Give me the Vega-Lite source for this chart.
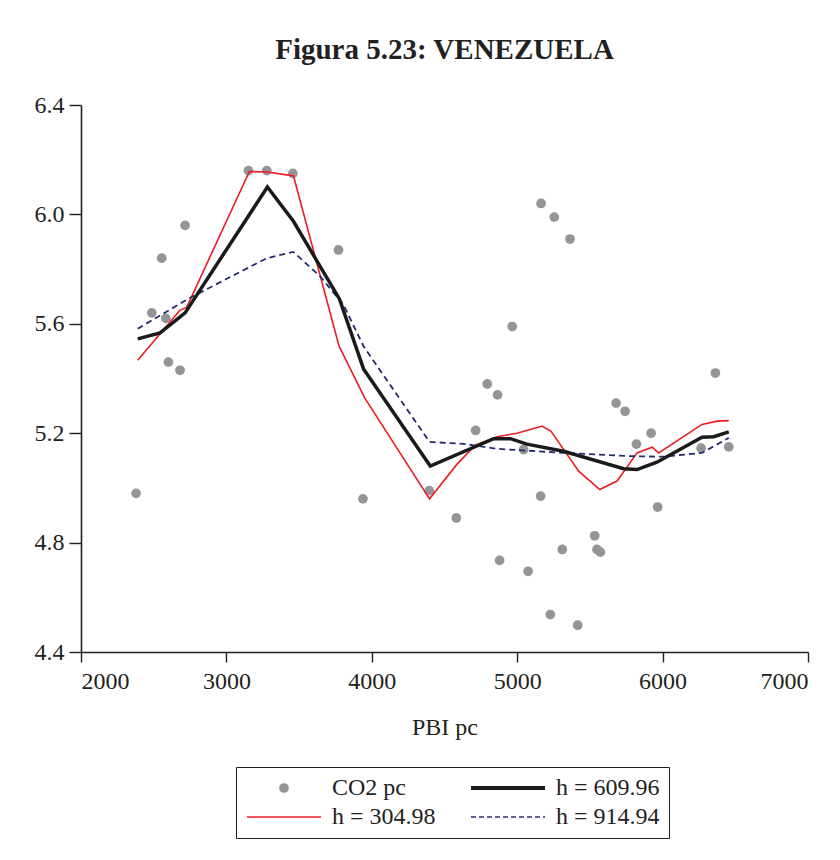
{
  "$schema": "https://vega.github.io/schema/vega-lite/v6.json",
  "width": 727,
  "height": 547,
  "autosize": {"type": "none"},
  "padding": {"left": 81, "top": 105, "right": 32, "bottom": 208},
  "background": "white",
  "title": {
    "text": "Figura 5.23: VENEZUELA",
    "font": "Liberation Serif",
    "fontSize": 29,
    "fontWeight": "bold",
    "color": "#231f20",
    "anchor": "middle",
    "offset": 28
  },
  "config": {
    "view": {"stroke": null},
    "axis": {
      "labelFont": "Liberation Serif",
      "titleFont": "Liberation Serif",
      "labelFontSize": 24,
      "titleFontSize": 24,
      "titleFontWeight": "normal",
      "labelColor": "#231f20",
      "titleColor": "#231f20",
      "domainColor": "#231f20",
      "tickColor": "#231f20",
      "domainWidth": 1.6,
      "tickWidth": 1.4,
      "grid": false
    }
  },
  "datasets": {
    "pts": [
      {"pbi": 2379, "co2": 4.98},
      {"pbi": 2487, "co2": 5.64},
      {"pbi": 2555, "co2": 5.84},
      {"pbi": 2583, "co2": 5.62},
      {"pbi": 2601, "co2": 5.46},
      {"pbi": 2681, "co2": 5.43},
      {"pbi": 2716, "co2": 5.96},
      {"pbi": 3151, "co2": 6.16},
      {"pbi": 3278, "co2": 6.16},
      {"pbi": 3457, "co2": 6.15},
      {"pbi": 3771, "co2": 5.87},
      {"pbi": 3939, "co2": 4.96},
      {"pbi": 4395, "co2": 4.99},
      {"pbi": 4581, "co2": 4.89},
      {"pbi": 4714, "co2": 5.21},
      {"pbi": 4794, "co2": 5.38},
      {"pbi": 4865, "co2": 5.34},
      {"pbi": 4879, "co2": 4.735},
      {"pbi": 4966, "co2": 5.59},
      {"pbi": 5044, "co2": 5.14},
      {"pbi": 5075, "co2": 4.695},
      {"pbi": 5161, "co2": 4.97},
      {"pbi": 5164, "co2": 6.04},
      {"pbi": 5228, "co2": 4.537},
      {"pbi": 5255, "co2": 5.99},
      {"pbi": 5310, "co2": 4.775},
      {"pbi": 5363, "co2": 5.91},
      {"pbi": 5416, "co2": 4.498},
      {"pbi": 5533, "co2": 4.825},
      {"pbi": 5549, "co2": 4.775},
      {"pbi": 5572, "co2": 4.765},
      {"pbi": 5680, "co2": 5.31},
      {"pbi": 5742, "co2": 5.28},
      {"pbi": 5820, "co2": 5.16},
      {"pbi": 5921, "co2": 5.2},
      {"pbi": 5966, "co2": 4.93},
      {"pbi": 6265, "co2": 5.145},
      {"pbi": 6363, "co2": 5.42},
      {"pbi": 6455, "co2": 5.15}
    ],
    "red": [
      {"pbi": 2390, "co2": 5.467},
      {"pbi": 2681, "co2": 5.65},
      {"pbi": 2727, "co2": 5.66},
      {"pbi": 3158, "co2": 6.157},
      {"pbi": 3278, "co2": 6.155},
      {"pbi": 3461, "co2": 6.141},
      {"pbi": 3775, "co2": 5.518},
      {"pbi": 3950, "co2": 5.33},
      {"pbi": 4397, "co2": 4.96},
      {"pbi": 4585, "co2": 5.086},
      {"pbi": 4712, "co2": 5.156},
      {"pbi": 4861, "co2": 5.187},
      {"pbi": 4999, "co2": 5.2},
      {"pbi": 5171, "co2": 5.226},
      {"pbi": 5233, "co2": 5.207},
      {"pbi": 5423, "co2": 5.061},
      {"pbi": 5568, "co2": 4.994},
      {"pbi": 5687, "co2": 5.025},
      {"pbi": 5824, "co2": 5.128},
      {"pbi": 5928, "co2": 5.149},
      {"pbi": 5973, "co2": 5.128},
      {"pbi": 6271, "co2": 5.232},
      {"pbi": 6375, "co2": 5.244},
      {"pbi": 6455, "co2": 5.246}
    ],
    "black": [
      {"pbi": 2390, "co2": 5.545},
      {"pbi": 2544, "co2": 5.567},
      {"pbi": 2716, "co2": 5.64},
      {"pbi": 3282, "co2": 6.1},
      {"pbi": 3461, "co2": 5.975},
      {"pbi": 3778, "co2": 5.69},
      {"pbi": 3943, "co2": 5.435},
      {"pbi": 4402, "co2": 5.08},
      {"pbi": 4838, "co2": 5.18},
      {"pbi": 4953, "co2": 5.18},
      {"pbi": 5067, "co2": 5.16},
      {"pbi": 5319, "co2": 5.134},
      {"pbi": 5732, "co2": 5.07},
      {"pbi": 5824, "co2": 5.067},
      {"pbi": 5961, "co2": 5.094},
      {"pbi": 6271, "co2": 5.185},
      {"pbi": 6352, "co2": 5.187},
      {"pbi": 6455, "co2": 5.205}
    ],
    "blue": [
      {"pbi": 2390, "co2": 5.582},
      {"pbi": 2750, "co2": 5.695},
      {"pbi": 3278, "co2": 5.84},
      {"pbi": 3461, "co2": 5.863},
      {"pbi": 3645, "co2": 5.773},
      {"pbi": 3805, "co2": 5.67},
      {"pbi": 3943, "co2": 5.518},
      {"pbi": 4397, "co2": 5.168},
      {"pbi": 4631, "co2": 5.161},
      {"pbi": 4861, "co2": 5.143},
      {"pbi": 5319, "co2": 5.128},
      {"pbi": 5778, "co2": 5.116},
      {"pbi": 6008, "co2": 5.114},
      {"pbi": 6271, "co2": 5.128},
      {"pbi": 6455, "co2": 5.183}
    ]
  },
  "encoding": {
    "x": {
      "field": "pbi",
      "type": "quantitative",
      "title": "PBI pc",
      "scale": {"domain": [2000, 7000], "nice": false, "zero": false},
      "axis": {"values": [2000, 3000, 4000, 5000, 6000, 7000], "format": "d", "tickSize": 10, "labelPadding": 7, "titlePadding": 22}
    },
    "y": {
      "field": "co2",
      "type": "quantitative",
      "title": null,
      "scale": {"domain": [4.4, 6.4], "nice": false, "zero": false},
      "axis": {"values": [4.4, 4.8, 5.2, 5.6, 6.0, 6.4], "format": ".1f", "tickSize": 12, "labelPadding": 5}
    },
    "color": {
      "field": "s",
      "type": "nominal",
      "scale": {
        "domain": ["CO2 pc", "h = 609.96", "h = 304.98", "h = 914.94"],
        "range": ["#939598", "#1a1a1a", "#ed1c24", "#262b6b"]
      },
      "legend": {
        "title": null,
        "orient": "none",
        "legendX": 155,
        "legendY": 662,
        "columns": 2,
        "direction": "horizontal",
        "columnPadding": 27,
        "rowPadding": 5,
        "padding": 9,
        "strokeColor": "#231f20",
        "fillColor": "white",
        "labelFont": "Liberation Serif",
        "labelFontSize": 24,
        "labelColor": "#231f20",
        "labelOffset": 36,
        "symbolOffset": 27,
        "symbolType": "stroke",
        "encode": {
          "symbols": {
            "update": {
              "shape": {"signal": "datum.value === 'CO2 pc' ? 'circle' : 'stroke'"},
              "size": {"signal": "datum.value === 'CO2 pc' ? 95 : 5476"},
              "fill": {"signal": "datum.value === 'CO2 pc' ? '#939598' : 'transparent'"},
              "stroke": {"signal": "datum.value === 'CO2 pc' ? 'transparent' : datum.value === 'h = 609.96' ? '#1a1a1a' : datum.value === 'h = 304.98' ? '#ed1c24' : '#262b6b'"},
              "strokeWidth": {"signal": "datum.value === 'h = 609.96' ? 3.8 : datum.value === 'CO2 pc' ? 0 : 1.6"},
              "strokeDash": {"signal": "datum.value === 'h = 914.94' ? [5, 3] : [1, 0]"},
              "opacity": {"value": 1}
            }
          }
        }
      }
    }
  },
  "layer": [
    {
      "data": {"name": "pts"},
      "mark": {"type": "point", "filled": true, "size": 95, "opacity": 1, "shape": "circle"},
      "encoding": {"color": {"datum": "CO2 pc", "type": "nominal"}}
    },
    {
      "data": {"name": "red"},
      "mark": {"type": "line", "strokeWidth": 1.6},
      "encoding": {"color": {"datum": "h = 304.98", "type": "nominal"}}
    },
    {
      "data": {"name": "blue"},
      "mark": {"type": "line", "strokeWidth": 1.8, "strokeDash": [6, 4]},
      "encoding": {"color": {"datum": "h = 914.94", "type": "nominal"}}
    },
    {
      "data": {"name": "black"},
      "mark": {"type": "line", "strokeWidth": 3.5},
      "encoding": {"color": {"datum": "h = 609.96", "type": "nominal"}}
    }
  ]
}
